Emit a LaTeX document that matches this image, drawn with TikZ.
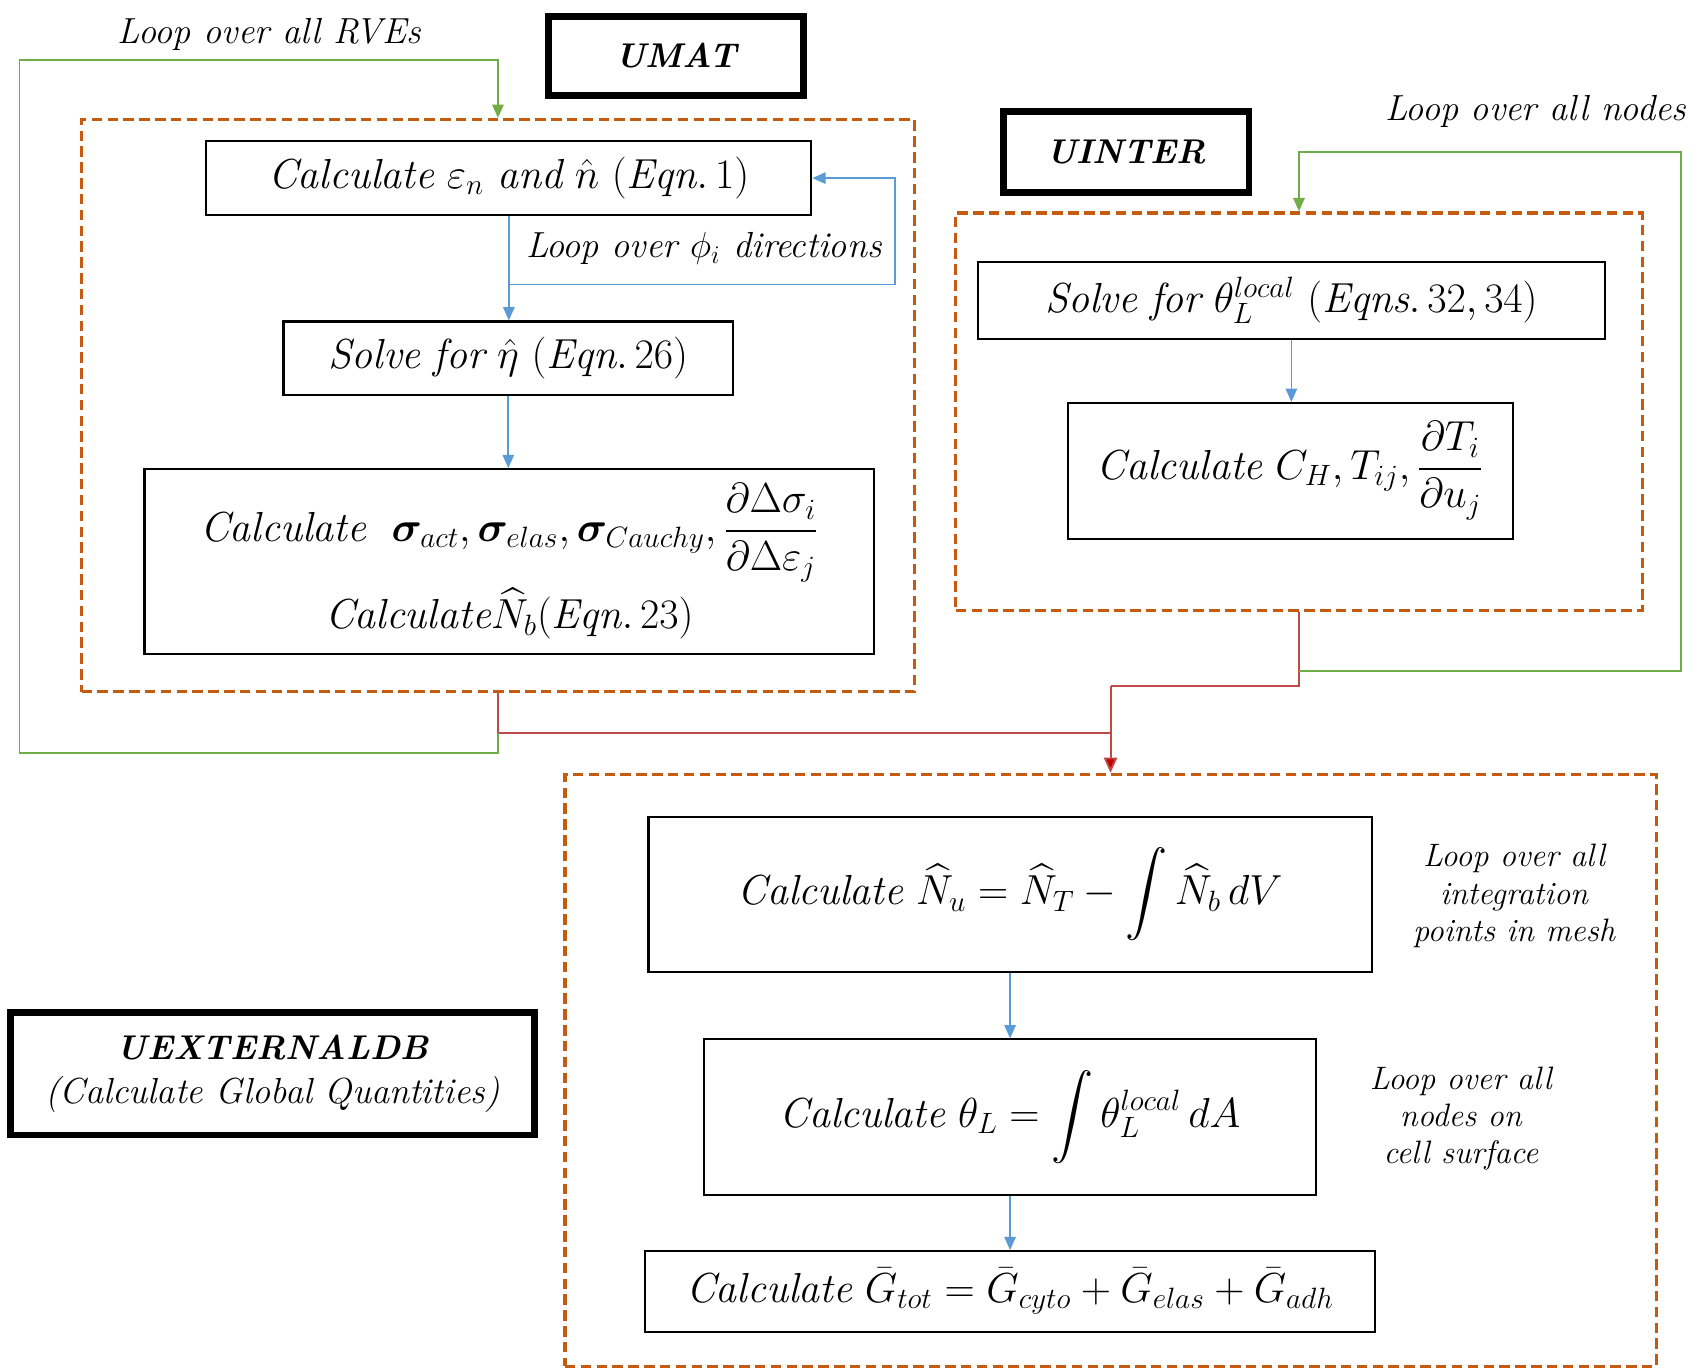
\RequirePackage{fix-cm}
\documentclass[tikz,border=0pt]{standalone}
\usepackage{amsmath,amssymb}
\usepackage{bm}
\usepackage{fontspec}
\usetikzlibrary{arrows.meta}
\definecolor{dashor}{RGB}{197,90,17}
\definecolor{lblue}{RGB}{91,155,213}
\definecolor{lgreen}{RGB}{112,173,71}
\definecolor{lred}{RGB}{190,75,70}
\definecolor{dred}{RGB}{192,0,0}
\tikzset{
  box/.style={draw=black, line width=1.1pt, fill=white, align=center, inner sep=0pt, font=\fontsize{22}{26}\selectfont},
  hdr/.style={draw=black, line width=3.6pt, fill=white, align=center, inner sep=0pt, font=\fontsize{18}{24}\selectfont\bfseries\itshape},
  group/.style={draw=dashor, line width=1.7pt, dash pattern=on 5.5pt off 2.8pt, inner sep=0pt},
  lbl/.style={font=\fontsize{19}{22}\selectfont\itshape, align=center, inner sep=0pt},
  slbl/.style={font=\fontsize{17}{19.5}\selectfont\itshape, align=center, inner sep=0pt},
  blueflow/.style={draw=lblue, line width=0.9pt, -{Triangle[width=6pt,length=7pt]}},
  greenflow/.style={draw=lgreen, line width=0.9pt, -{Triangle[width=6pt,length=7pt]}},
  redline/.style={draw=lred, line width=1pt},
  redflow/.style={draw=lred, line width=1pt, -{Triangle[width=7pt,length=8pt,fill=dred]}},
}
\begin{document}
\begin{tikzpicture}[x=0.02cm, y=-0.02cm]
\useasboundingbox (0,0) rectangle (1568,1260);

% dashed groups
\node[group, minimum width=15.34cm, minimum height=10.54cm] (dumat) at (458.5,373.5) {};
\node[group, minimum width=12.64cm, minimum height=7.32cm] (dinter) at (1196,379) {};
\node[group, minimum width=20.1cm, minimum height=10.9cm] (dext) at (1022.5,985.5) {};

% headers
\node[hdr, minimum width=4.7cm, minimum height=1.46cm] (umat) at (622.5,51.5) {UMAT};
\node[hdr, minimum width=4.52cm, minimum height=1.48cm] (uinter) at (1037,140) {UINTER};
\node[hdr, minimum width=9.64cm, minimum height=2.26cm] (uext) at (251,988.5) {UEXTERNALDB\\[-1pt]{\fontsize{19}{22}\selectfont\mdseries\itshape (Calculate Global Quantities)}};

% UMAT boxes
\node[box, minimum width=11.14cm, minimum height=1.36cm] (b1) at (468.5,164)
  {$\mathit{Calculate}\ \varepsilon_n\ \mathit{and}\ \hat{n}\ (\mathit{Eqn.}\,1)$};
\node[box, minimum width=8.28cm, minimum height=1.36cm] (b2) at (468,330)
  {$\mathit{Solve}\ \mathit{for}\ \hat{\eta}\ (\mathit{Eqn.}\,26)$};
\node[box, minimum width=13.44cm, minimum height=3.4cm] (b3) at (469,517)
  {$\mathit{Calculate}\ \ \bm{\sigma}_{act}, \bm{\sigma}_{elas}, \bm{\sigma}_{Cauchy}, \dfrac{\partial\Delta\sigma_i}{\partial\Delta\varepsilon_j}$\\[2pt]
   $\mathit{Calculate}\widehat{N}_b(\mathit{Eqn.}\,23)$};

% UINTER boxes
\node[box, minimum width=11.56cm, minimum height=1.42cm] (b7) at (1189,276.5)
  {$\mathit{Solve}\ \mathit{for}\ \theta_L^{local}\ (\mathit{Eqns.}\,32, 34)$};
\node[box, minimum width=8.2cm, minimum height=2.5cm] (b8) at (1188,433.5)
  {$\mathit{Calculate}\ C_H, T_{ij}, \dfrac{\partial T_i}{\partial u_j}$};

% UEXTERNALDB boxes
\node[box, minimum width=13.32cm, minimum height=2.86cm] (b4) at (930,823.5)
  {$\mathit{Calculate}\ \widehat{N}_u = \widehat{N}_T - \displaystyle\int \widehat{N}_b\, dV$};
\node[box, minimum width=11.28cm, minimum height=2.86cm] (b5) at (930,1028.5)
  {$\mathit{Calculate}\ \theta_L = \displaystyle\int \theta_L^{local}\, dA$};
\node[box, minimum width=13.44cm, minimum height=1.48cm] (b6) at (930,1189)
  {$\mathit{Calculate}\ \bar{G}_{tot} = \bar{G}_{cyto} + \bar{G}_{elas} + \bar{G}_{adh}$};

% labels
\node[lbl] (lrve) at (248,32) {Loop over all RVEs};
\node[lbl] (lphi) at (648,229) {Loop over $\phi_i$ directions};
\node[lbl] (lnodes) at (1414,103) {Loop over all nodes};
\node[slbl] (lint) at (1394,825) {Loop over all\\integration\\points in mesh};
\node[slbl] (lsurf) at (1345,1030) {Loop over all\\nodes on\\cell surface};

% blue flow
\coordinate (bj) at (b1.south |- 0,262);
\coordinate (bR) at (824,262);
\draw[blueflow] (b1.south) -- (b1.south |- b2.north);
\draw[blueflow] (bj) -- (bR) |- (b1.east);
\draw[blueflow] (b2.south) -- (b2.south |- b3.north);
\draw[blueflow] (b7.south) -- (b7.south |- b8.north);
\draw[blueflow] (b4.south) -- (b4.south |- b5.north);
\draw[blueflow] (b5.south) -- (b5.south |- b6.north);

% red/brown links
\coordinate (jU) at (458.5,675);
\coordinate (jM) at (1022.5,632);
\coordinate (jI2) at (1196,618);
\draw[redline] (dumat.south) -- (jU) -- (jU -| dext.north);
\draw[redline] (dinter.south) |- (jM);
\draw[redflow] (jM) -- (dext.north);

% green loops
\coordinate (gBL) at (18,693);
\coordinate (gTL) at (18,55);
\draw[greenflow] (jU) |- (gBL) -- (gTL) -| (dumat.north);
\coordinate (gBR) at (1548,618);
\coordinate (gTR) at (1548,140);
\draw[greenflow] (jI2) -- (gBR) -- (gTR) -| (dinter.north);
\end{tikzpicture}
\end{document}
